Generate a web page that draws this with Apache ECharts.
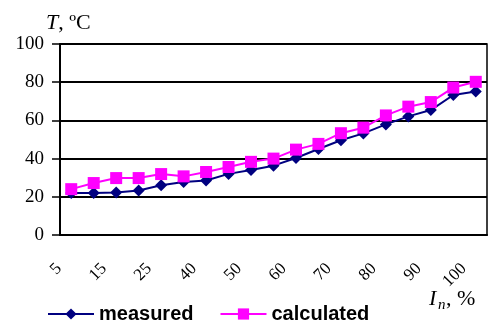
<!DOCTYPE html>
<html>
<head>
<meta charset="utf-8">
<script src="https://cdn.jsdelivr.net/npm/echarts@6/dist/echarts.min.js"></script>
<style>html,body{margin:0;padding:0;background:#fff}#c{width:488px;height:325px}</style>
</head>
<body>
<div id="c"></div>
<script>
var categories = ['5','10','15','20','25','30','40','45','50','55','60','65','70','75','80','85','90','95','100'];
var measured = [22,22,22.3,23.3,26,27.7,28.5,32,34,36.3,40.3,45,49.6,53.2,57.9,62.1,65.4,73.3,75.1];
var calculated = [24,27.2,29.8,29.8,31.9,30.7,33,35.6,38.3,40,44.7,47.7,53.3,56.2,62.6,67.2,69.6,77.2,80.2];
var yTicks = {min:0, max:100, interval:20};

var chart = echarts.init(document.getElementById('c'), null, {renderer:'canvas'});
chart.setOption({
  animation:false,
  backgroundColor:'#fff',
  grid:{left:60, right:1, top:44, bottom:90, show:true, borderColor:'#000', borderWidth:1.5, backgroundColor:'transparent'},
  xAxis:{
    type:'category', data:categories, boundaryGap:true,
    axisLine:{lineStyle:{color:'#000', width:2}},
    axisTick:{interval:0, length:7, lineStyle:{color:'#000', width:1.5}},
    axisLabel:{interval:1, rotate:45, margin:19, padding:[0,17,0,0], color:'#000', fontFamily:'Liberation Serif', fontSize:17}
  },
  yAxis:{
    type:'value', min:yTicks.min, max:yTicks.max, interval:yTicks.interval,
    axisLine:{show:true, lineStyle:{color:'#000', width:2}},
    axisTick:{show:true, length:8, lineStyle:{color:'#000', width:1.5}},
    splitLine:{lineStyle:{color:'#000', width:2}},
    axisLabel:{margin:16, color:'#000', fontFamily:'Liberation Serif', fontSize:19}
  },
  legend:{
    left:42, top:299, itemWidth:46, itemHeight:14, itemGap:26,
    data:['measured','calculated'],
    textStyle:{fontFamily:'Liberation Sans', fontWeight:'bold', fontSize:20, color:'#000'}
  },
  series:[
    {name:'measured', type:'line', data:measured, symbol:'diamond', symbolSize:12,
     lineStyle:{color:'#000080', width:2}, itemStyle:{color:'#000080'}},
    {name:'calculated', type:'line', data:calculated, symbol:'rect', symbolSize:12,
     lineStyle:{color:'#ff00ff', width:2}, itemStyle:{color:'#ff00ff'}}
  ],
  graphic:[
    {type:'text', left:46, top:12, style:{text:'{i|T}, ºC', fill:'#000', font:'22px "Liberation Serif"',
      rich:{i:{fontStyle:'italic', fontFamily:'Liberation Serif', fontSize:22}}}},
    {type:'text', left:429, top:288, style:{text:'I', fill:'#000', font:'italic 22px "Liberation Serif"'}},
    {type:'text', left:438, top:298, style:{text:'n', fill:'#000', font:'italic 15px "Liberation Serif"'}},
    {type:'text', left:446, top:288, style:{text:', %', fill:'#000', font:'22px "Liberation Serif"'}}
  ]
});
</script>
</body>
</html>
